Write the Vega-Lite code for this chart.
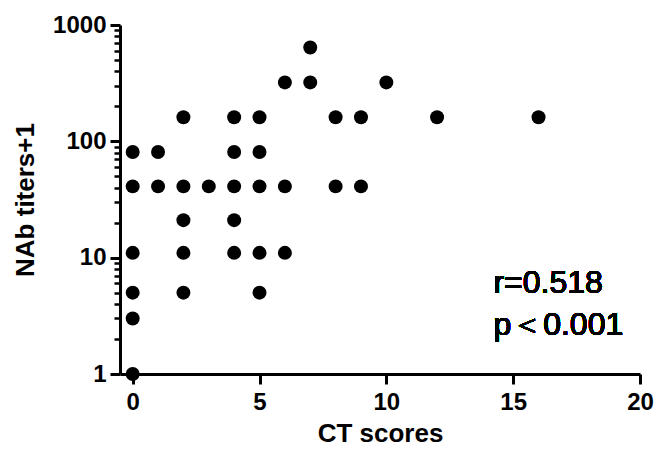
{
  "$schema": "https://vega.github.io/schema/vega-lite/v6.json",
  "width": 520,
  "height": 349,
  "autosize": {"type": "none"},
  "padding": {"left": 120, "top": 25, "right": 16, "bottom": 78},
  "background": "white",
  "config": {
    "view": {"stroke": null},
    "font": "Liberation Sans",
    "axis": {"grid": false, "domainColor": "black", "tickColor": "black", "labelColor": "black", "titleColor": "black"}
  },
  "data": {
    "values": [
      {"ct": 0, "nab": 81}, {"ct": 0, "nab": 41}, {"ct": 0, "nab": 11}, {"ct": 0, "nab": 5}, {"ct": 0, "nab": 3}, {"ct": 0, "nab": 1},
      {"ct": 1, "nab": 81}, {"ct": 1, "nab": 41},
      {"ct": 2, "nab": 161}, {"ct": 2, "nab": 41}, {"ct": 2, "nab": 21}, {"ct": 2, "nab": 11}, {"ct": 2, "nab": 5},
      {"ct": 3, "nab": 41},
      {"ct": 4, "nab": 161}, {"ct": 4, "nab": 81}, {"ct": 4, "nab": 41}, {"ct": 4, "nab": 21}, {"ct": 4, "nab": 11},
      {"ct": 5, "nab": 161}, {"ct": 5, "nab": 81}, {"ct": 5, "nab": 41}, {"ct": 5, "nab": 11}, {"ct": 5, "nab": 5},
      {"ct": 6, "nab": 321}, {"ct": 6, "nab": 41}, {"ct": 6, "nab": 11},
      {"ct": 7, "nab": 641}, {"ct": 7, "nab": 321},
      {"ct": 8, "nab": 161}, {"ct": 8, "nab": 41},
      {"ct": 9, "nab": 161}, {"ct": 9, "nab": 41},
      {"ct": 10, "nab": 321},
      {"ct": 12, "nab": 161},
      {"ct": 16, "nab": 161}
    ]
  },
  "layer": [
    {
      "mark": {"type": "point", "filled": true, "color": "black", "opacity": 1, "size": 195, "strokeWidth": 0},
      "encoding": {
        "x": {
          "field": "ct", "type": "quantitative",
          "scale": {"domain": [-0.5, 20], "nice": false, "zero": false},
          "axis": {
            "values": [0, 5, 10, 15, 20], "title": "CT scores",
            "domainWidth": 3, "tickWidth": 3, "tickSize": 10, "labelFlush": false,
            "labelFontSize": 24, "labelFontWeight": "bold", "labelPadding": 6,
            "titleFontSize": 26, "titleFontWeight": "bold", "titlePadding": 6
          }
        },
        "y": {
          "field": "nab", "type": "quantitative",
          "scale": {"type": "log", "domain": [1, 1000], "nice": false},
          "axis": {
            "orient": "left",
            "values": [1,2,3,4,5,6,7,8,9,10,20,30,40,50,60,70,80,90,100,200,300,400,500,600,700,800,900,1000],
            "labelExpr": "(datum.value == 1 || datum.value == 10 || datum.value == 100 || datum.value == 1000) ? datum.label : ''",
            "format": "d", "title": "NAb titers+1", "labelFlush": false,
            "domainWidth": 3,
            "tickWidth": {"condition": {"test": "datum.value == 1 || datum.value == 10 || datum.value == 100 || datum.value == 1000", "value": 3}, "value": 2.5},
            "tickSize": {"condition": {"test": "datum.value == 1 || datum.value == 10 || datum.value == 100 || datum.value == 1000", "value": 10}, "value": 6},
            "labelFontSize": 24, "labelFontWeight": "bold", "labelPadding": 4,
            "titleFontSize": 26, "titleFontWeight": "bold", "titlePadding": 14
          }
        }
      }
    },
    {
      "mark": {"type": "text", "text": "r=0.518", "fontSize": 32, "fontWeight": "normal", "align": "left", "baseline": "alphabetic", "color": "black"},
      "encoding": {"x": {"datum": 14.22, "type": "quantitative"}, "y": {"datum": 5.0, "type": "quantitative"}}
    },
    {
      "mark": {"type": "text", "text": "p＜0.001", "fontSize": 32, "fontWeight": "normal", "align": "left", "baseline": "alphabetic", "color": "black"},
      "encoding": {"x": {"datum": 14.22, "type": "quantitative"}, "y": {"datum": 2.18, "type": "quantitative"}}
    }
  ]
}
